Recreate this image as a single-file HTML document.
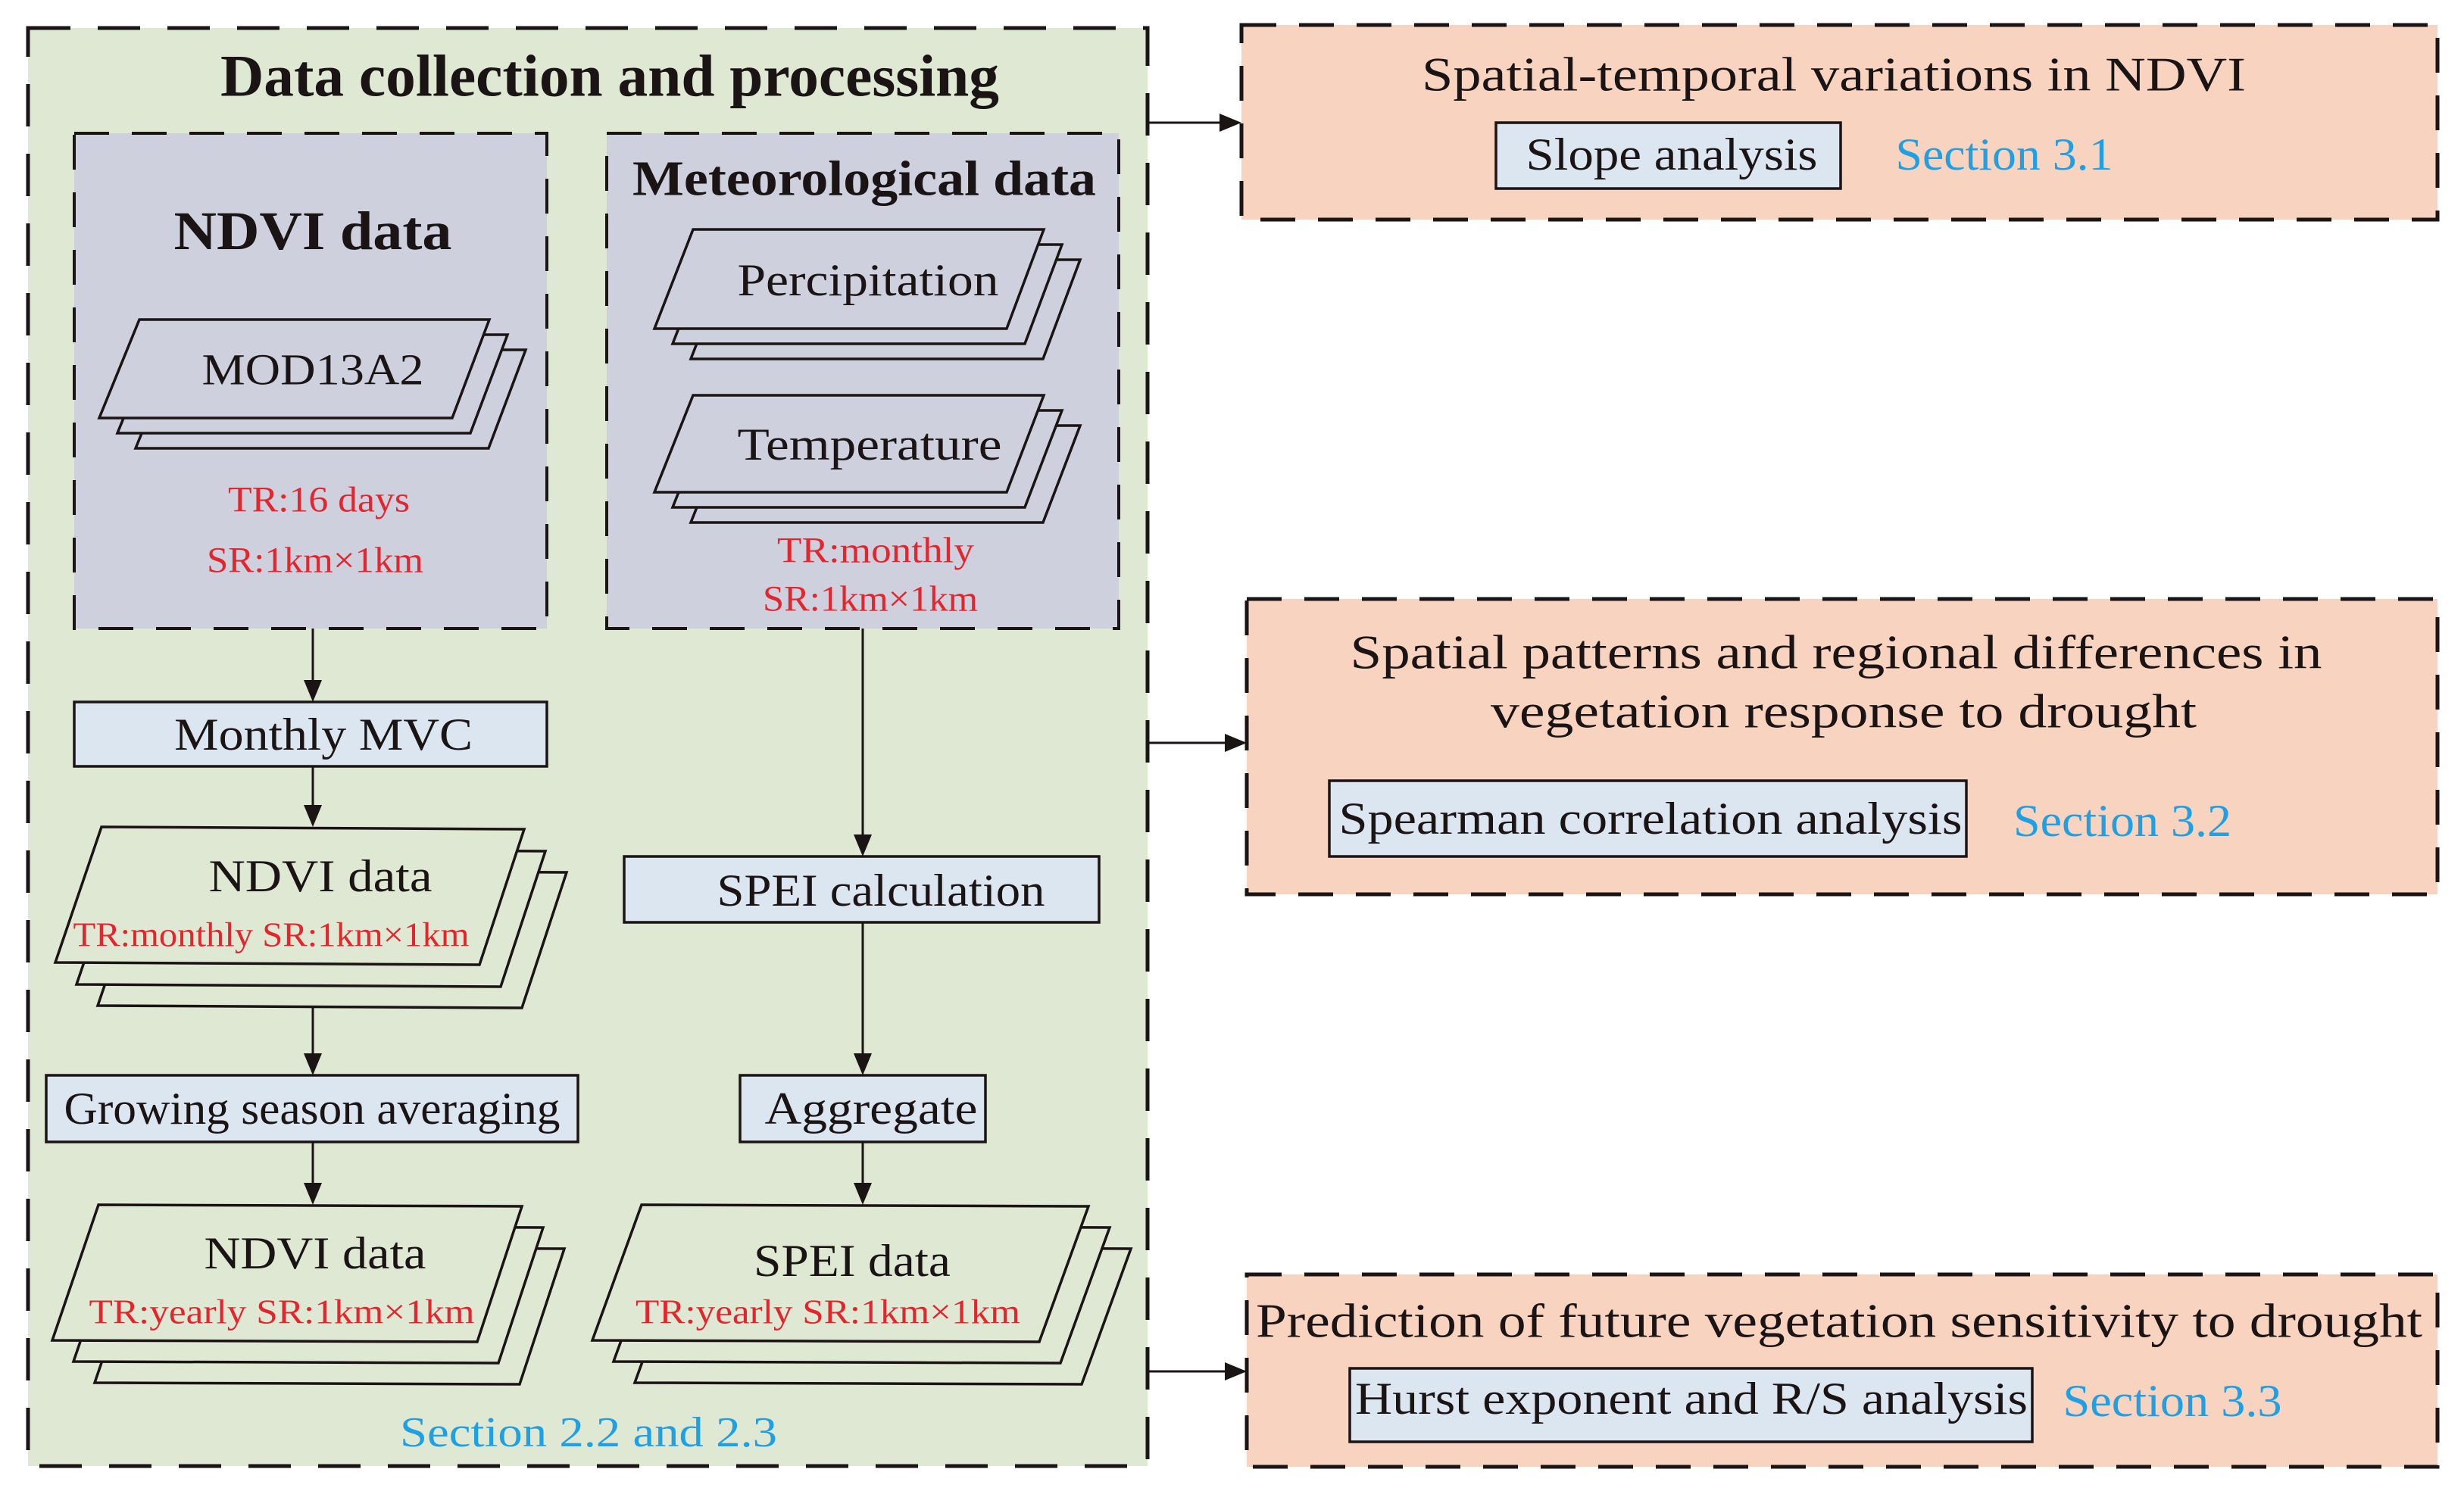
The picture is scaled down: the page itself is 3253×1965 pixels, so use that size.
<!DOCTYPE html>
<html><head><meta charset="utf-8"><style>
html,body{margin:0;padding:0;background:#fff}
svg{display:block}
text{font-family:"Liberation Serif",serif;fill:#1a1414;dominant-baseline:central;text-anchor:middle}
.r{fill:#e3262e}
.b{fill:#1ea0e2}
</style></head><body>
<svg width="3253" height="1965" viewBox="0 0 3253 1965" xmlns="http://www.w3.org/2000/svg">
<defs>
<marker id="ah" markerWidth="10" markerHeight="10" refX="9" refY="5" orient="auto" markerUnits="userSpaceOnUse" viewBox="0 0 10 10">
</marker>
</defs>
<!-- outer green -->
<rect x="37" y="37" width="1478" height="1899" fill="#dfe8d3" stroke="#1a1414" stroke-width="5" stroke-dasharray="56 36"/>
<text x="805" y="100" font-size="78" font-weight="bold" textLength="1028" lengthAdjust="spacingAndGlyphs">Data collection and processing</text>
<!-- inner boxes -->
<rect x="98" y="176" width="624" height="654" fill="#cfd0de" stroke="#1a1414" stroke-width="4" stroke-dasharray="46 30"/>
<rect x="801" y="176" width="676" height="654" fill="#cfd0de" stroke="#1a1414" stroke-width="4" stroke-dasharray="46 30"/>
<text x="413" y="305" font-size="72" font-weight="bold" textLength="367" lengthAdjust="spacingAndGlyphs">NDVI data</text>
<text x="1141" y="236" font-size="66" font-weight="bold" textLength="612" lengthAdjust="spacingAndGlyphs">Meteorological data</text>

<g stroke="#1a1414" stroke-width="3.5">
<!-- MOD13A2 stack -->
<polygon points="232,462 694,462 645,592 179,592" fill="#cfd0de"/>
<polygon points="208,442 670,442 621,572 155,572" fill="#cfd0de"/>
<polygon points="184,422 646,422 597,552 131,552" fill="#cfd0de"/>
<!-- Percipitation -->
<polygon points="963,343 1426,343 1377,474 912,474" fill="#cfd0de"/>
<polygon points="939,323 1402,323 1353,454 888,454" fill="#cfd0de"/>
<polygon points="915,303 1378,303 1329,434 864,434" fill="#cfd0de"/>
<!-- Temperature -->
<polygon points="963,562 1426,562 1377,690 912,690" fill="#cfd0de"/>
<polygon points="939,542 1402,542 1353,670 888,670" fill="#cfd0de"/>
<polygon points="915,522 1378,522 1329,650 864,650" fill="#cfd0de"/>
<!-- NDVI monthly -->
<polygon points="190,1149 748,1152 689,1331 129,1328" fill="#dfe8d3"/>
<polygon points="162,1121 720,1124 661,1303 101,1300" fill="#dfe8d3"/>
<polygon points="134,1092 692,1095 633,1274 73,1271" fill="#dfe8d3"/>
<!-- NDVI yearly -->
<polygon points="186,1647 745,1649 686,1828 125,1826" fill="#dfe8d3"/>
<polygon points="158,1619 717,1621 658,1800 97,1798" fill="#dfe8d3"/>
<polygon points="130,1591 689,1593 630,1772 69,1770" fill="#dfe8d3"/>
<!-- SPEI yearly -->
<polygon points="903,1647 1493,1649 1428,1828 838,1826" fill="#dfe8d3"/>
<polygon points="875,1619 1465,1621 1400,1800 810,1798" fill="#dfe8d3"/>
<polygon points="847,1591 1437,1593 1372,1772 782,1770" fill="#dfe8d3"/>
</g>
<text x="413" y="488" font-size="58" textLength="293" lengthAdjust="spacingAndGlyphs">MOD13A2</text>
<text class="r" x="421" y="660" font-size="48" textLength="240" lengthAdjust="spacingAndGlyphs">TR:16 days</text>
<text class="r" x="416" y="740" font-size="48" textLength="286" lengthAdjust="spacingAndGlyphs">SR:1km×1km</text>
<text x="1146" y="370" font-size="60" textLength="345" lengthAdjust="spacingAndGlyphs">Percipitation</text>
<text x="1148" y="587" font-size="60" textLength="349" lengthAdjust="spacingAndGlyphs">Temperature</text>
<text class="r" x="1156" y="727" font-size="48" textLength="260" lengthAdjust="spacingAndGlyphs">TR:monthly</text>
<text class="r" x="1149" y="791" font-size="48" textLength="284" lengthAdjust="spacingAndGlyphs">SR:1km×1km</text>

<!-- process boxes -->
<g fill="#dce6f1" stroke="#1a1414" stroke-width="3.5">
<rect x="98" y="927" width="624" height="85"/>
<rect x="824" y="1131" width="627" height="87"/>
<rect x="61" y="1420" width="702" height="88"/>
<rect x="977" y="1420" width="324" height="88"/>
</g>
<text x="427" y="970" font-size="60" textLength="394" lengthAdjust="spacingAndGlyphs">Monthly MVC</text>
<text x="1163" y="1176" font-size="60" textLength="433" lengthAdjust="spacingAndGlyphs">SPEI calculation</text>
<text x="412" y="1464" font-size="60" textLength="655" lengthAdjust="spacingAndGlyphs">Growing season averaging</text>
<text x="1150" y="1464" font-size="60" textLength="281" lengthAdjust="spacingAndGlyphs">Aggregate</text>

<text x="423" y="1157" font-size="60" textLength="295" lengthAdjust="spacingAndGlyphs">NDVI data</text>
<text class="r" x="358" y="1234" font-size="46" textLength="523" lengthAdjust="spacingAndGlyphs">TR:monthly SR:1km×1km</text>
<text x="416" y="1655" font-size="60" textLength="293" lengthAdjust="spacingAndGlyphs">NDVI data</text>
<text class="r" x="372" y="1732" font-size="46" textLength="509" lengthAdjust="spacingAndGlyphs">TR:yearly SR:1km×1km</text>
<text x="1125" y="1665" font-size="60" textLength="260" lengthAdjust="spacingAndGlyphs">SPEI data</text>
<text class="r" x="1093" y="1732" font-size="46" textLength="508" lengthAdjust="spacingAndGlyphs">TR:yearly SR:1km×1km</text>
<text class="b" x="777" y="1892" font-size="56" textLength="498" lengthAdjust="spacingAndGlyphs">Section 2.2 and 2.3</text>

<!-- connectors -->
<g stroke="#1a1414" stroke-width="3">
<line x1="413" y1="830" x2="413" y2="900"/>
<line x1="413" y1="1012" x2="413" y2="1065"/>
<line x1="413" y1="1329" x2="413" y2="1393"/>
<line x1="413" y1="1508" x2="413" y2="1564"/>
<line x1="1139" y1="830" x2="1139" y2="1104"/>
<line x1="1139" y1="1218" x2="1139" y2="1393"/>
<line x1="1139" y1="1508" x2="1139" y2="1564"/>
<line x1="1515" y1="162" x2="1612" y2="162"/>
<line x1="1515" y1="981" x2="1619" y2="981"/>
<line x1="1515" y1="1811" x2="1619" y2="1811"/>
</g>
<g fill="#1a1414">
<polygon points="401,898 425,898 413,927"/>
<polygon points="401,1063 425,1063 413,1092"/>
<polygon points="401,1391 425,1391 413,1420"/>
<polygon points="401,1562 425,1562 413,1591"/>
<polygon points="1127,1102 1151,1102 1139,1131"/>
<polygon points="1127,1391 1151,1391 1139,1420"/>
<polygon points="1127,1562 1151,1562 1139,1591"/>
<polygon points="1610,150 1610,174 1639,162"/>
<polygon points="1617,969 1617,993 1646,981"/>
<polygon points="1617,1799 1617,1823 1646,1811"/>
</g>

<!-- right boxes -->
<g fill="#f8d3c0" stroke="#1a1414" stroke-width="5" stroke-dasharray="46 30">
<rect x="1639" y="33" width="1579" height="257"/>
<rect x="1646" y="791" width="1572" height="390"/>
<rect x="1646" y="1683" width="1572" height="254"/>
</g>
<g fill="#dce6f1" stroke="#1a1414" stroke-width="3.5">
<rect x="1975" y="162" width="455" height="87"/>
<rect x="1755" y="1031" width="841" height="100"/>
<rect x="1782" y="1807" width="901" height="97"/>
</g>
<text x="2421" y="98" font-size="64" textLength="1088" lengthAdjust="spacingAndGlyphs">Spatial-temporal variations in NDVI</text>
<text x="2207" y="204" font-size="60" textLength="385" lengthAdjust="spacingAndGlyphs">Slope analysis</text>
<text class="b" x="2646" y="204" font-size="60" textLength="287" lengthAdjust="spacingAndGlyphs">Section 3.1</text>
<text x="2424" y="861" font-size="64" textLength="1283" lengthAdjust="spacingAndGlyphs">Spatial patterns and regional differences in</text>
<text x="2434" y="939" font-size="64" textLength="932" lengthAdjust="spacingAndGlyphs">vegetation response to drought</text>
<text x="2179" y="1081" font-size="60" textLength="823" lengthAdjust="spacingAndGlyphs">Spearman correlation analysis</text>
<text class="b" x="2802" y="1084" font-size="60" textLength="288" lengthAdjust="spacingAndGlyphs">Section 3.2</text>
<text x="2428" y="1744" font-size="64" textLength="1540" lengthAdjust="spacingAndGlyphs">Prediction of future vegetation sensitivity to drought</text>
<text x="2233" y="1847" font-size="60" textLength="888" lengthAdjust="spacingAndGlyphs">Hurst exponent and R/S analysis</text>
<text class="b" x="2868" y="1850" font-size="60" textLength="289" lengthAdjust="spacingAndGlyphs">Section 3.3</text>
</svg>
</body></html>
